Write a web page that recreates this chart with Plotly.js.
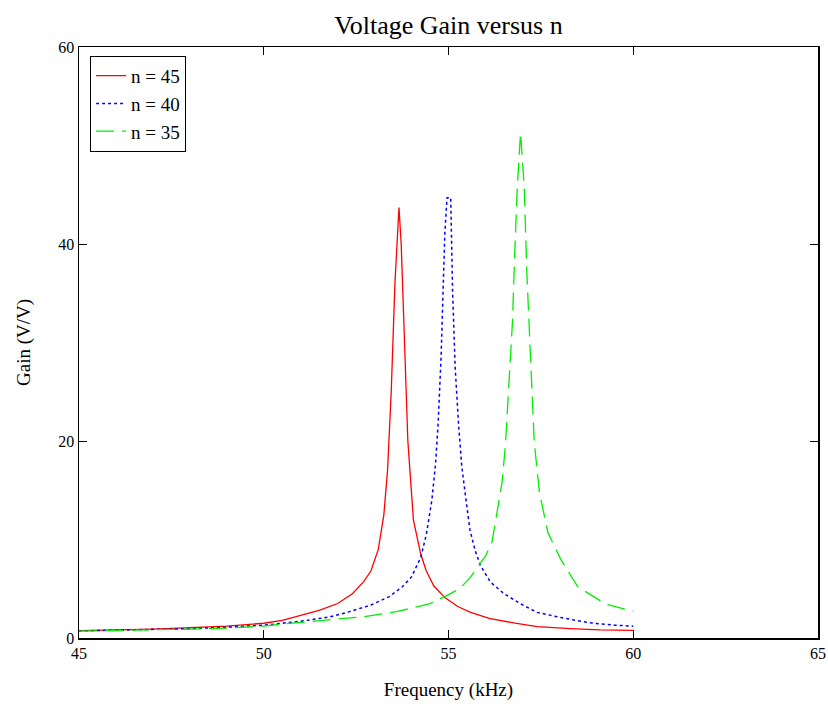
<!DOCTYPE html>
<html>
<head>
<meta charset="utf-8">
<script src="https://cdn.plot.ly/plotly-3.0.1.min.js"></script>
<style>html,body{margin:0;padding:0;background:#fff;}#chart{width:828px;height:710px;}</style>
</head>
<body>
<div id="chart"></div>
<script>
const seriesNames = ["n = 45", "n = 40", "n = 35"];

const freq45 = [45, 46, 47, 48, 49, 50, 50.5, 51, 51.5, 52, 52.4, 52.7, 52.9, 53.1, 53.25, 53.35, 53.45, 53.55, 53.66, 53.72, 53.8, 53.9, 54.05, 54.25, 54.4, 54.6, 54.9, 55.25, 55.6, 56.1, 56.8, 57.4, 58.3, 59.1, 60];
const gain45 = [0.74, 0.8, 0.9, 1.05, 1.2, 1.5, 1.8, 2.3, 2.8, 3.5, 4.5, 5.7, 6.8, 9.0, 12.5, 17, 25, 36, 43.7, 40, 30, 20, 12, 8.5, 6.8, 5.3, 4.1, 3.2, 2.6, 2.0, 1.5, 1.15, 0.95, 0.82, 0.78];

const freq40 = [45, 46, 47, 48, 49, 50, 51, 51.8, 52.3, 52.9, 53.4, 53.75, 54.0, 54.25, 54.4, 54.55, 54.65, 54.72, 54.8, 54.86, 54.9, 54.96, 55.06, 55.11, 55.18, 55.27, 55.36, 55.45, 55.58, 55.72, 55.86, 56.13, 56.5, 56.96, 57.4, 58.05, 58.8, 59.5, 60];
const gain40 = [0.72, 0.78, 0.85, 0.95, 1.1, 1.3, 1.7, 2.15, 2.65, 3.35, 4.2, 5.2, 6.2, 8.2, 10.5, 14, 17.7, 21.8, 28.6, 35.3, 41, 44.7, 44.7, 35.3, 27.5, 21.8, 17.4, 14.7, 11.0, 8.9, 7.4, 5.7, 4.5, 3.45, 2.6, 2.07, 1.55, 1.3, 1.2];

const freq35 = [45, 46, 47, 48, 49, 50, 50.6, 51.5, 52.4, 52.7, 53.6, 54.5, 54.9, 55.3, 55.58, 55.85, 56.0, 56.18, 56.31, 56.45, 56.54, 56.63, 56.73, 56.79, 56.86, 56.95, 57.05, 57.12, 57.21, 57.32, 57.46, 57.69, 58.05, 58.5, 59.25, 60];
const gain35 = [0.7, 0.75, 0.82, 0.9, 1.0, 1.2, 1.45, 1.73, 2.0, 2.16, 2.67, 3.5, 4.2, 5.0, 6.1, 7.6, 8.3, 9.8, 12.7, 15.8, 19.6, 25.1, 32, 38.8, 45.7, 51.3, 45.7, 37.1, 28.5, 19.9, 14.8, 10.7, 7.9, 5.2, 3.45, 2.7];

const xTicks = [45, 50, 55, 60, 65];
const yTicks = [0, 20, 40, 60];

const font = "'Liberation Serif', 'Times New Roman', serif";

const traces = [
  {x: freq45, y: gain45, name: seriesNames[0], type: "scatter", mode: "lines",
   line: {color: "#ff0000", width: 1.3, dash: "solid"}},
  {x: freq40, y: gain40, name: seriesNames[1], type: "scatter", mode: "lines",
   line: {color: "#0000ff", width: 1.5, dash: "dot"}},
  {x: freq35, y: gain35, name: seriesNames[2], type: "scatter", mode: "lines",
   line: {color: "#00ee00", width: 1.3, dash: "18px,8px"}}
];

const layout = {
  width: 828, height: 710,
  margin: {l: 79, r: 10, t: 47, b: 72},
  paper_bgcolor: "#fff", plot_bgcolor: "#fff",
  font: {family: font, color: "#000", size: 16},
  showlegend: true,
  title: {text: "Voltage Gain versus n", font: {family: font, size: 26, color: "#000"},
          xref: "paper", x: 0.5, xanchor: "center", yref: "container", y: 0.965, yanchor: "middle"},
  xaxis: {
    range: [45, 65], tickvals: xTicks, ticktext: xTicks.map(String),
    showgrid: false, zeroline: false, showline: true, linecolor: "#000", linewidth: 1.5,
    mirror: "ticks", ticks: "inside", ticklen: 8, tickcolor: "#000", tickwidth: 1,
    tickfont: {family: font, size: 16},
    title: {text: "Frequency (kHz)", font: {family: font, size: 19}, standoff: 22}
  },
  yaxis: {
    range: [0, 60], tickvals: yTicks, ticktext: yTicks.map(String),
    showgrid: false, zeroline: false, showline: true, linecolor: "#000", linewidth: 1.5,
    mirror: "ticks", ticks: "inside", ticklen: 8, tickcolor: "#000", tickwidth: 1,
    tickfont: {family: font, size: 16},
    title: {text: "Gain (V/V)", font: {family: font, size: 19}, standoff: 22}
  },
  legend: {
    x: 0.015, y: 0.985, xanchor: "left", yanchor: "top",
    bgcolor: "#fff", bordercolor: "#000", borderwidth: 1,
    font: {family: font, size: 19, color: "#000"},
    tracegroupgap: 0, itemwidth: 30
  }
};

Plotly.newPlot("chart", traces, layout, {displayModeBar: false, staticPlot: true});
</script>
</body>
</html>
